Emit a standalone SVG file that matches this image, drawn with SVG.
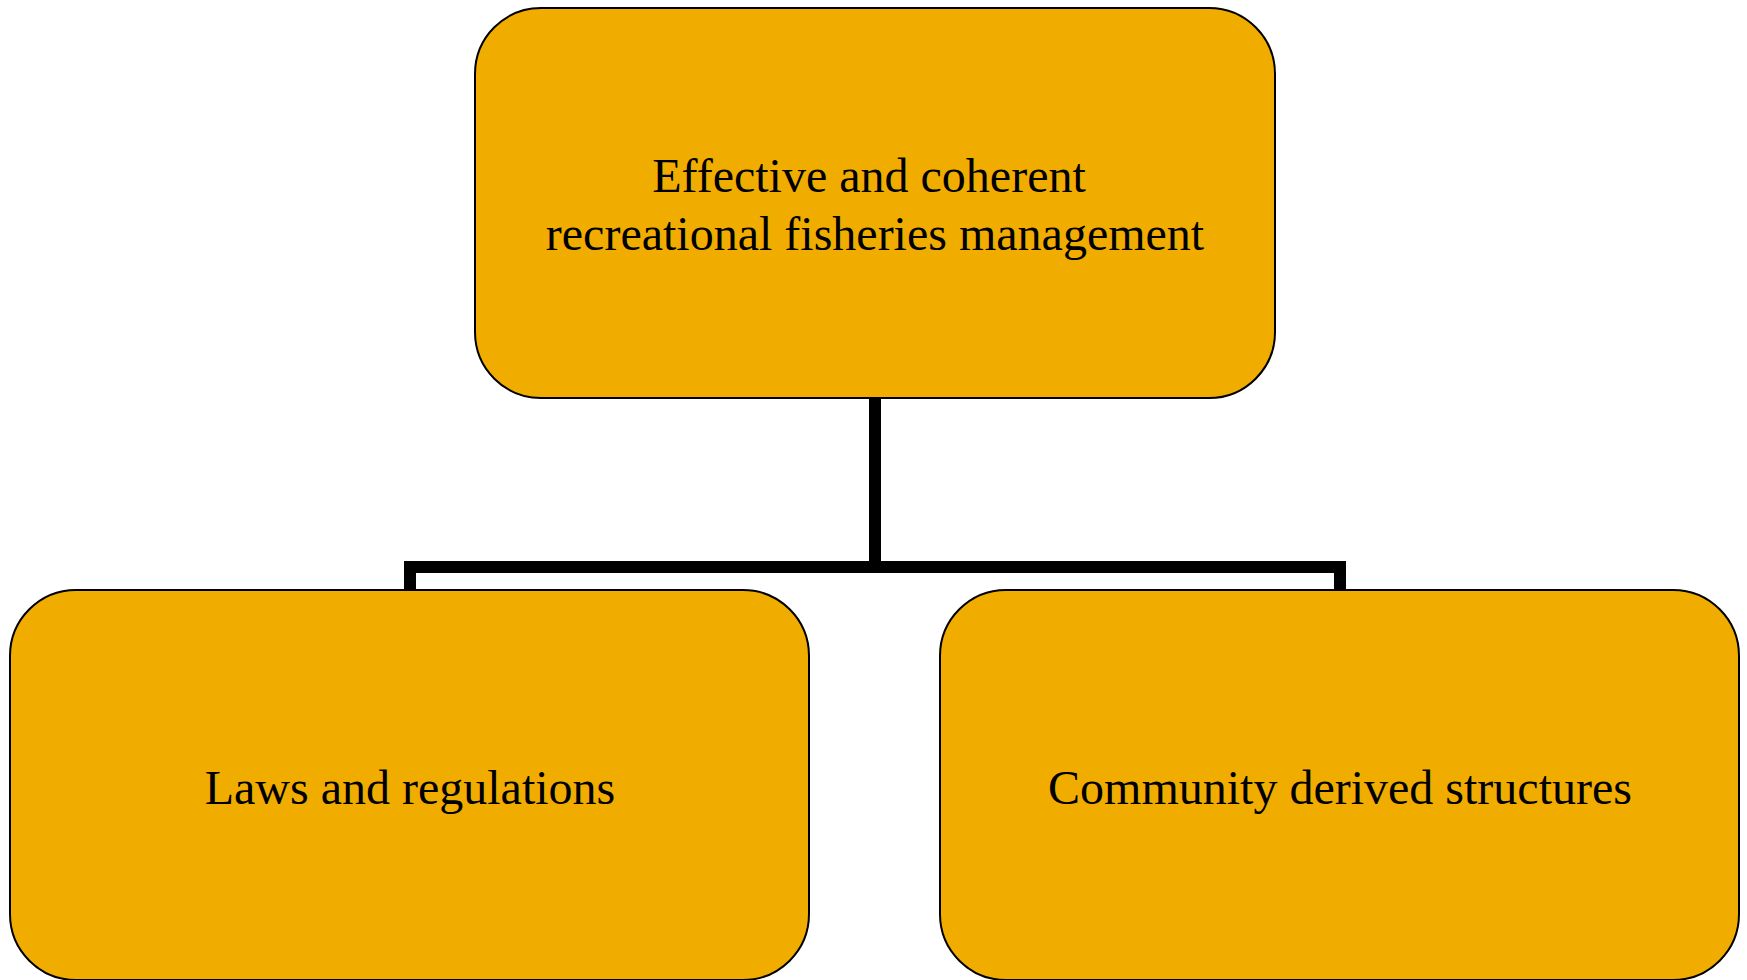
<svg xmlns="http://www.w3.org/2000/svg" width="1747" height="980" viewBox="0 0 1747 980">
<style>
.box{fill:#F0AD00;stroke:#000;stroke-width:2}
.t{font-family:"Liberation Serif","Times New Roman",serif;font-size:48px;fill:#000;text-anchor:middle}
.c{fill:none;stroke:#000;stroke-width:12}
</style>
<rect width="1747" height="980" fill="#fff"/>
<g id="connectors">
<path class="c" d="M875 398 V567 M410 590 V567 H1340 V590"/>
</g>
<g id="top">
<rect class="box" x="475" y="8" width="800" height="390" rx="66" ry="66"/>
<text class="t" x="869" y="192">Effective and coherent</text>
<text class="t" x="875" y="250">recreational fisheries management</text>
</g>
<g id="left">
<rect class="box" x="10" y="590" width="799" height="390" rx="66" ry="66"/>
<text class="t" x="410" y="804">Laws and regulations</text>
</g>
<g id="right">
<rect class="box" x="940" y="590" width="799" height="390" rx="66" ry="66"/>
<text class="t" x="1340" y="804">Community derived structures</text>
</g>
</svg>
